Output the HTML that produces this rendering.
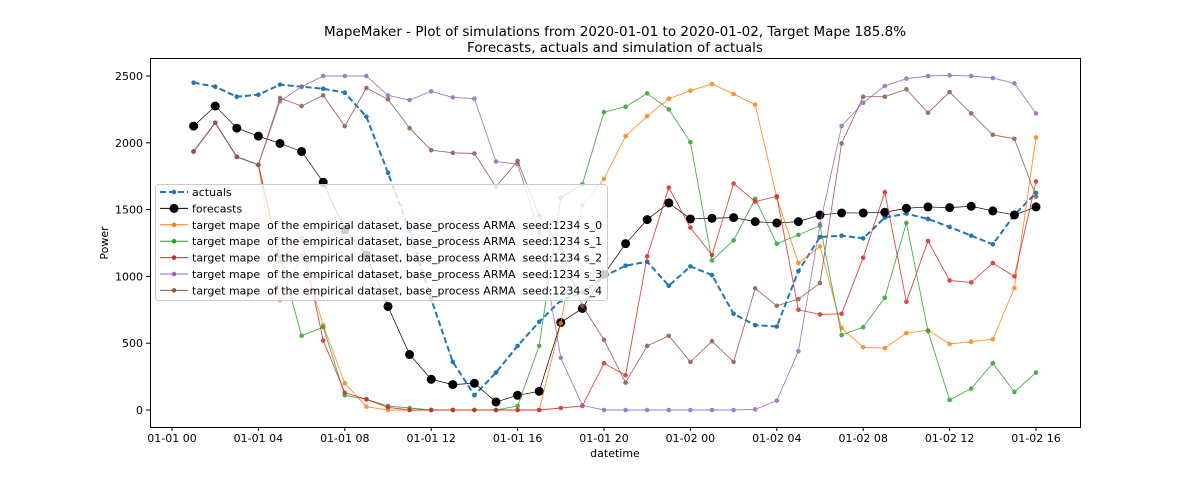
<!DOCTYPE html>
<html><head><meta charset="utf-8"><style>
body{margin:0;background:#fff;width:1200px;height:480px;overflow:hidden;font-family:"DejaVu Sans","Liberation Sans",sans-serif}
</style></head><body>
<svg id="chart" width="1200" height="480" xmlns="http://www.w3.org/2000/svg" font-family="DejaVu Sans, Liberation Sans, sans-serif">
<text x="615" y="36" font-size="13.5" text-anchor="middle">MapeMaker - Plot of simulations from 2020-01-01 to 2020-01-02, Target Mape 185.8%</text>
<text x="615" y="52" font-size="13.5" text-anchor="middle">Forecasts, actuals and simulation of actuals</text>
<text x="615" y="457" font-size="11" text-anchor="middle">datetime</text>
<text x="108" y="243" font-size="11" text-anchor="middle" transform="rotate(-90 108 243)">Power</text>
<g id="plot"></g>
<rect x="150.5" y="58.5" width="930" height="369" fill="none" stroke="#000" stroke-width="1"/>
<g id="legend"></g>
</svg>
<script>
const hours = Array.from({length:40},(_,i)=>i+1);
const actuals=[2450,2420,2345,2360,2435,2420,2405,2375,2195,1775,1340,830,360,110,280,480,660,820,880,1000,1080,1110,930,1075,1010,720,635,625,1040,1295,1305,1285,1440,1470,1430,1370,1305,1240,1460,1625];
const forecasts=[2125,2275,2110,2050,1995,1935,1705,1350,1160,775,415,230,190,200,60,110,140,655,760,1015,1245,1425,1550,1430,1435,1440,1410,1400,1410,1460,1475,1475,1480,1510,1520,1515,1525,1490,1460,1520];
const s0=[1935,2150,1895,1835,823,1160,636,200,25,0,0,0,0,0,0,0,0,650,1530,1730,2050,2200,2330,2390,2440,2365,2285,1590,1100,1225,613,470,463,575,598,494,511,530,913,2040];
const s1=[1935,2150,1895,1835,1148,555,620,110,80,30,15,0,0,0,0,30,480,1590,1690,2230,2270,2370,2250,2005,1120,1270,1580,1245,1310,1380,560,620,840,1400,590,75,160,350,135,280];
const s2=[1935,2150,1895,1835,1110,1285,520,130,80,20,0,0,0,0,0,0,0,15,30,350,260,1150,1665,1365,1160,1695,1560,1600,750,715,720,1140,1630,810,1265,970,955,1100,1000,1710];
const s3=[1935,2150,1895,1835,2310,2420,2500,2500,2500,2355,2320,2385,2340,2330,1860,1840,1330,390,35,0,0,0,0,0,0,0,5,70,440,1390,2125,2300,2425,2480,2500,2505,2500,2485,2445,2220];
const s4=[1935,2150,1895,1835,2335,2275,2355,2125,2410,2325,2110,1945,1925,1920,1670,1865,1455,1210,780,525,205,480,555,360,515,360,910,780,830,950,1995,2345,2345,2400,2225,2380,2220,2060,2030,1597];
const yTicks=[0,500,1000,1500,2000,2500];
const xTickHours=[0,4,8,12,16,20,24,28,32,36,40];
const xTickLabels=["01-01 00","01-01 04","01-01 08","01-01 12","01-01 16","01-01 20","01-02 00","01-02 04","01-02 08","01-02 12","01-02 16"];
const seriesNames=["s_0","s_1","s_2","s_3","s_4"];
const seriesColors=["#ff7f0e","#2ca02c","#d62728","#9467bd","#8c564b"];

const NS="http://www.w3.org/2000/svg";
const X=h=>172+h*21.6;
const Y=v=>410-v*0.1336;
const plot=document.getElementById('plot');
const svg=document.getElementById('chart');
function mk(tag,attrs,parent){const e=document.createElementNS(NS,tag);for(const k in attrs)e.setAttribute(k,attrs[k]);(parent||plot).appendChild(e);return e;}

yTicks.forEach(v=>{
  const t=mk('line',{x1:146,x2:150,y1:Y(v),y2:Y(v),stroke:'#000'},svg);
  
  
  const l=mk('text',{x:143,y:Y(v)+4,'font-size':11,'text-anchor':'end'},svg);
  l.textContent=v;
  
  
});
xTickHours.forEach((h,i)=>{
  const t=mk('line',{x1:X(h),x2:X(h),y1:427,y2:431,stroke:'#000'},svg);
  
  
  const l=mk('text',{x:X(h),y:442,'font-size':11,'text-anchor':'middle'},svg);
  l.textContent=xTickLabels[i];
  
  
});

function drawLine(data,color,width,dash,r,name,opacity){
  const g=mk('g',{opacity:opacity});
  
  
  const pts=data.map((v,i)=>X(hours[i])+','+Y(v)).join(' ');
  mk('polyline',{points:pts,fill:'none',stroke:color,'stroke-width':width,'stroke-dasharray':dash||'none'},g);
  data.forEach((v,i)=>{
    const c=mk('circle',{cx:X(hours[i]),cy:Y(v),r:r,fill:color},g);
    
    
  });
}
drawLine(actuals,'#1f77b4',2,'6,3',2.3,'actuals-series',1);
drawLine(forecasts,'#000',0.7,null,4.5,'forecasts-series',1);
[s0,s1,s2,s3,s4].forEach((s,i)=>drawLine(s,seriesColors[i],0.9,null,2.3,'simulation-'+seriesNames[i],0.85));

// legend
const lg=document.getElementById('legend');
const box=mk('rect',{x:155.5,y:184.5,width:452,height:116,rx:3,fill:'#fff','fill-opacity':0.8,stroke:'#ccc'},lg);


const labels=['actuals','forecasts'].concat(seriesNames.map(s=>'target mape  of the empirical dataset, base_process ARMA  seed:1234 '+s));
const colors=['#1f77b4','#000'].concat(seriesColors);
labels.forEach((lab,i)=>{
  const y=192+i*16.4;
  const g=mk('g',{},lg);
  
  
  mk('line',{x1:160,x2:188,y1:y,y2:y,stroke:colors[i],'stroke-width':i==0?2:1,'stroke-dasharray':i==0?'6,3':'none'},g);
  mk('circle',{cx:174,cy:y,r:i==1?4.5:2.3,fill:colors[i]},g);
  const t=mk('text',{x:192,y:y+4,'font-size':11,'xml:space':'preserve'},g);
  t.style.whiteSpace='pre';
  t.textContent=lab;
});
</script>
</body></html>
